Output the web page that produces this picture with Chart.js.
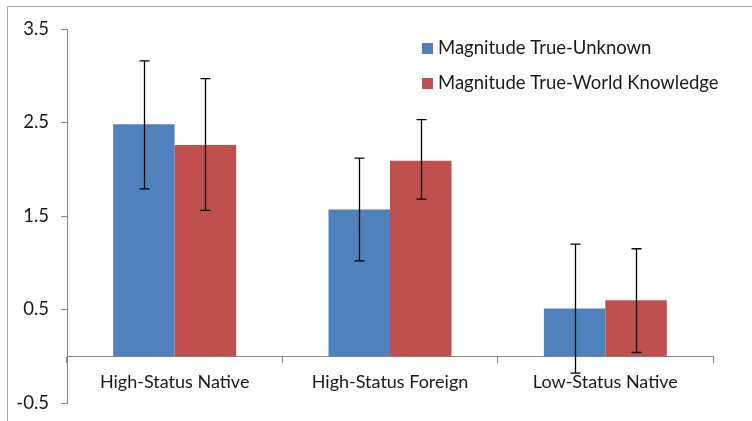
<!DOCTYPE html>
<html>
<head>
<meta charset="utf-8">
<script src="https://cdn.jsdelivr.net/npm/chart.js@4"></script>
<style>
html,body{margin:0;padding:0;background:#fff;}
#wrap{position:relative;width:752px;height:421px;}
</style>
</head>
<body>
<div id="wrap"><canvas id="c" width="752" height="421"></canvas></div>
<script>
const categories = ["High-Status Native", "High-Status Foreign", "Low-Status Native"];
const seriesNames = ["Magnitude True-Unknown", "Magnitude True-World Knowledge"];
const unknownValues = [2.48, 1.57, 0.51];
const unknownLow = [1.79, 1.02, -0.18];
const unknownHigh = [3.16, 2.12, 1.20];
const worldValues = [2.26, 2.09, 0.60];
const worldLow = [1.56, 1.68, 0.04];
const worldHigh = [2.97, 2.53, 1.15];
const yTicks = [-0.5, 0.5, 1.5, 2.5, 3.5];

const FONT = "Lato, 'Open Sans', sans-serif";

const errorBars = {
  id: 'errorBars',
  afterDatasetsDraw(chart) {
    const ctx = chart.ctx;
    const ys = chart.scales.y;
    ctx.save();
    ctx.strokeStyle = '#000';
    ctx.lineWidth = 1.3;
    chart.data.datasets.forEach((ds, di) => {
      const meta = chart.getDatasetMeta(di);
      meta.data.forEach((bar, i) => {
        const x = Math.round(bar.x) + 0.5;
        const yl = ys.getPixelForValue(ds.errLow[i]);
        const yh = ys.getPixelForValue(ds.errHigh[i]);
        ctx.beginPath();
        ctx.moveTo(x, yh); ctx.lineTo(x, yl);
        ctx.moveTo(x - 5, yh); ctx.lineTo(x + 5, yh);
        ctx.moveTo(x - 5, yl); ctx.lineTo(x + 5, yl);
        ctx.stroke();
      });
    });
    ctx.restore();
  }
};

const customLegend = {
  id: 'customLegend',
  afterDraw(chart) {
    const ctx = chart.ctx;
    ctx.save();
    ctx.font = '18.5px ' + FONT;
    ctx.textBaseline = 'middle';
    ctx.textAlign = 'left';
    chart.data.datasets.forEach((ds, i) => {
      const cy = 48 + i * 35;
      ctx.fillStyle = ds.backgroundColor;
      ctx.fillRect(422, cy - 5, 11, 11);
      ctx.fillStyle = '#1a1a1a';
      ctx.fillText(ds.label, 438, cy);
    });
    // frame
    ctx.strokeStyle = '#a6a6a6';
    ctx.lineWidth = 1;
    ctx.beginPath();
    ctx.moveTo(7.5, 421); ctx.lineTo(7.5, 6.5); ctx.lineTo(752, 6.5);
    ctx.stroke();
    ctx.restore();
  }
};

new Chart(document.getElementById('c'), {
  type: 'bar',
  data: {
    labels: categories,
    datasets: [
      { label: seriesNames[0], data: unknownValues, errLow: unknownLow, errHigh: unknownHigh,
        backgroundColor: '#4F81BD', borderWidth: 0 },
      { label: seriesNames[1], data: worldValues, errLow: worldLow, errHigh: worldHigh,
        backgroundColor: '#C0504D', borderWidth: 0 }
    ]
  },
  options: {
    responsive: false,
    animation: false,
    devicePixelRatio: 1,
    layout: { padding: { left: 0, right: 39, top: 29, bottom: 18 } },
    datasets: { bar: { categoryPercentage: 0.571, barPercentage: 1.0 } },
    plugins: { legend: { display: false }, tooltip: { enabled: false } },
    scales: {
      x: {
        position: { y: 0 },
        grid: { offset: true, drawOnChartArea: false, drawTicks: true, tickLength: 6, color: '#868686' },
        border: { color: '#868686', width: 1 },
        ticks: { color: '#1a1a1a', font: { family: FONT, size: 18 }, padding: 9 }
      },
      y: {
        min: -0.5, max: 3.5,
        afterBuildTicks(scale) { scale.ticks = yTicks.map(v => ({ value: v })); },
        afterFit(scale) { scale.width = 67; scale.paddingTop = 0; scale.paddingBottom = 0; },
        grid: { drawOnChartArea: false, drawTicks: true, tickLength: 6, color: '#868686' },
        border: { color: '#868686', width: 1 },
        ticks: { color: '#1a1a1a', font: { family: FONT, size: 18.5 }, padding: 12,
          callback: (v) => Number(v).toFixed(1) }
      }
    }
  },
  plugins: [errorBars, customLegend]
});
</script>
</body>
</html>
